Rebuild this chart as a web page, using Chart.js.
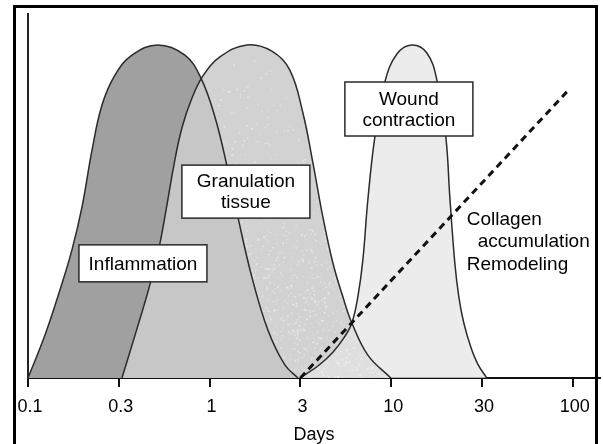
<!DOCTYPE html>
<html>
<head>
<meta charset="utf-8">
<script src="https://cdn.jsdelivr.net/npm/chart.js@4.4.1/dist/chart.umd.min.js"></script>
<style>
  html, body { margin: 0; padding: 0; background: #fff; }
  #wrap { width: 603px; height: 444px; }
</style>
</head>
<body>
<div id="wrap"><canvas id="healing" width="603" height="444"></canvas></div>
<script>
// Tick labels of the day axis; x values below are tick positions (0 = 0.1 day ... 6 = 100 days)
const dayTicks = ['0.1', '0.3', '1', '3', '10', '30', '100'];

const inflammationX = [0, 0.187, 0.352, 0.484, 0.595, 0.705, 0.815, 0.958, 1.145, 1.431, 1.728, 1.905, 2.059, 2.202, 2.312, 2.466, 2.642, 2.829, 2.973];
const inflammationY = [0, 11.8, 24.2, 35.2, 47.0, 62.6, 75.0, 83.2, 88.7, 91.5, 88.7, 82.4, 71.7, 57.1, 44.2, 27.7, 13.2, 3.6, 0];

const granulationX = [1.035, 1.189, 1.332, 1.442, 1.53, 1.607, 1.695, 1.806, 1.927, 2.114, 2.411, 2.686, 2.884, 3.028, 3.138, 3.248, 3.358, 3.468, 3.567, 3.743, 3.996];
const granulationY = [0, 12.6, 24.7, 35.7, 47.5, 58.5, 68.7, 76.9, 83.0, 88.2, 91.5, 89.8, 84.6, 72.8, 59.1, 44.2, 31.6, 22.3, 15.1, 6.3, 0];

const woundX = [2.995, 3.193, 3.358, 3.479, 3.567, 3.633, 3.688, 3.743, 3.82, 3.93, 4.063, 4.228, 4.393, 4.503, 4.602, 4.646, 4.701, 4.745, 4.8, 4.877, 4.954, 5.053];
const woundY = [0, 3.3, 7.1, 11.0, 15.1, 22.3, 32.4, 48.9, 66.2, 81.3, 89.0, 91.5, 89.3, 81.9, 66.2, 49.7, 31.6, 22.3, 15.1, 8.5, 3.8, 0];

const collagenX = [3, 5.934];
const collagenY = [0, 78.6];

const toPoints = (xs, ys) => xs.map((x, i) => ({ x: x, y: ys[i] }));

const FONT = '"Liberation Sans", Arial, Helvetica, sans-serif';

// boxed phase names and the free text for the collagen line
const phaseBoxes = [
  { lines: ['Inflammation'], x: 1.266, y: 31.5, w: 128, h: 37 },
  { lines: ['Granulation', 'tissue'], x: 2.4, y: 51.2, w: 128, h: 53 },
  { lines: ['Wound', 'contraction'], x: 4.195, y: 73.9, w: 128, h: 54 }
];
const collagenText = [
  { text: 'Collagen', x: 4.833, y: 43.4 },
  { text: 'accumulation', x: 4.954, y: 37.4 },
  { text: 'Remodeling', x: 4.833, y: 31.0 }
];

// light grain on the part of the granulation hump not covered by inflammation
const grainPlugin = {
  id: 'granulationGrain',
  beforeDatasetsDraw(chart) {
    const gran = chart.getDatasetMeta(2).dataset;
    const infl = chart.getDatasetMeta(3).dataset;
    const area = chart.chartArea;
    const ctx = chart.ctx;
    const outline = el => {
      const pts = el.points;
      el.path(ctx);
      ctx.lineTo(pts[pts.length - 1].x, area.bottom);
      ctx.lineTo(pts[0].x, area.bottom);
      ctx.closePath();
    };
    ctx.save();
    ctx.beginPath();
    outline(gran);
    ctx.clip();
    ctx.beginPath();
    outline(gran);
    outline(infl);
    ctx.clip('evenodd');
    let seed = 12345;
    const rnd = () => (seed = (seed * 16807) % 2147483647) / 2147483647;
    for (let i = 0; i < 4500; i++) {
      const x = area.left + rnd() * area.width;
      const y = area.top + Math.pow(rnd(), 0.4) * area.height;
      ctx.fillStyle = 'rgba(255,255,255,' + (0.15 + rnd() * 0.35).toFixed(2) + ')';
      ctx.fillRect(x, y, 1 + rnd(), 1 + rnd());
    }
    ctx.restore();
  }
};

const labelPlugin = {
  id: 'phaseLabels',
  afterDatasetsDraw(chart) {
    const ctx = chart.ctx;
    const xs = chart.scales.x, ys = chart.scales.y;
    ctx.save();
    ctx.font = '19px ' + FONT;
    ctx.textAlign = 'center';
    ctx.textBaseline = 'middle';
    phaseBoxes.forEach(b => {
      const cx = xs.getPixelForValue(b.x);
      const cy = ys.getPixelForValue(b.y);
      ctx.fillStyle = '#fff';
      ctx.fillRect(cx - b.w / 2, cy - b.h / 2, b.w, b.h);
      ctx.strokeStyle = '#2a2a2a';
      ctx.lineWidth = 1.5;
      ctx.strokeRect(cx - b.w / 2, cy - b.h / 2, b.w, b.h);
      ctx.fillStyle = '#000';
      const step = 21;
      const top = cy - (b.lines.length - 1) * step / 2;
      b.lines.forEach((t, i) => ctx.fillText(t, cx, top + i * step + 1));
    });
    ctx.textAlign = 'left';
    collagenText.forEach(t => {
      ctx.fillText(t.text, xs.getPixelForValue(t.x), ys.getPixelForValue(t.y));
    });
    ctx.restore();
  },
  afterDraw(chart) {
    // outer frame
    const ctx = chart.ctx;
    ctx.save();
    ctx.strokeStyle = '#000';
    ctx.lineWidth = 3;
    ctx.strokeRect(14.5, 6.5, 582, 460);
    ctx.restore();
  }
};

const curveStyle = {
  borderColor: '#2b2b2b',
  borderWidth: 1.5,
  fill: 'origin',
  pointRadius: 0,
  tension: 0.4
};

const ctx = document.getElementById('healing').getContext('2d');
new Chart(ctx, {
  type: 'line',
  data: {
    datasets: [
      {
        label: 'Collagen accumulation',
        data: toPoints(collagenX, collagenY),
        borderColor: '#111',
        borderWidth: 3,
        borderDash: [7, 5],
        fill: false,
        pointRadius: 0,
        tension: 0
      },
      Object.assign({
        label: 'Wound contraction',
        data: toPoints(woundX, woundY),
        backgroundColor: 'rgba(229,229,229,0.73)'
      }, curveStyle),
      Object.assign({
        label: 'Granulation tissue',
        data: toPoints(granulationX, granulationY),
        backgroundColor: 'rgba(204,204,204,0.88)'
      }, curveStyle),
      Object.assign({
        label: 'Inflammation',
        data: toPoints(inflammationX, inflammationY),
        backgroundColor: '#a0a0a0'
      }, curveStyle)
    ]
  },
  options: {
    responsive: false,
    animation: false,
    devicePixelRatio: 1,
    layout: { padding: { left: 28, top: 14, right: 3, bottom: 0 } },
    plugins: {
      legend: { display: false },
      tooltip: { enabled: false },
      filler: { drawTime: 'beforeDatasetsDraw' }
    },
    scales: {
      x: {
        type: 'linear',
        min: 0,
        max: 6.3,
        afterBuildTicks: s => { s.ticks = dayTicks.map((_, i) => ({ value: i })); },
        afterFit: s => { s.height = 66; },
        ticks: {
          callback: v => dayTicks[v],
          font: { family: FONT, size: 18 },
          color: '#000',
          padding: 9,
          labelOffset: 2,
          maxRotation: 0,
          autoSkip: false
        },
        grid: { display: true, drawOnChartArea: false, drawTicks: true, tickLength: 9, color: '#111', lineWidth: 2 },
        border: { display: true, color: '#111', width: 2 },
        title: { display: true, text: 'Days', color: '#000', font: { family: FONT, size: 18 }, padding: { top: 0, bottom: -2 } }
      },
      y: {
        min: 0,
        max: 100,
        afterFit: s => { s.width = 0; },
        ticks: { display: false },
        grid: { display: false },
        border: { display: true, color: '#222', width: 2 }
      }
    }
  },
  plugins: [grainPlugin, labelPlugin]
});
</script>
</body>
</html>
